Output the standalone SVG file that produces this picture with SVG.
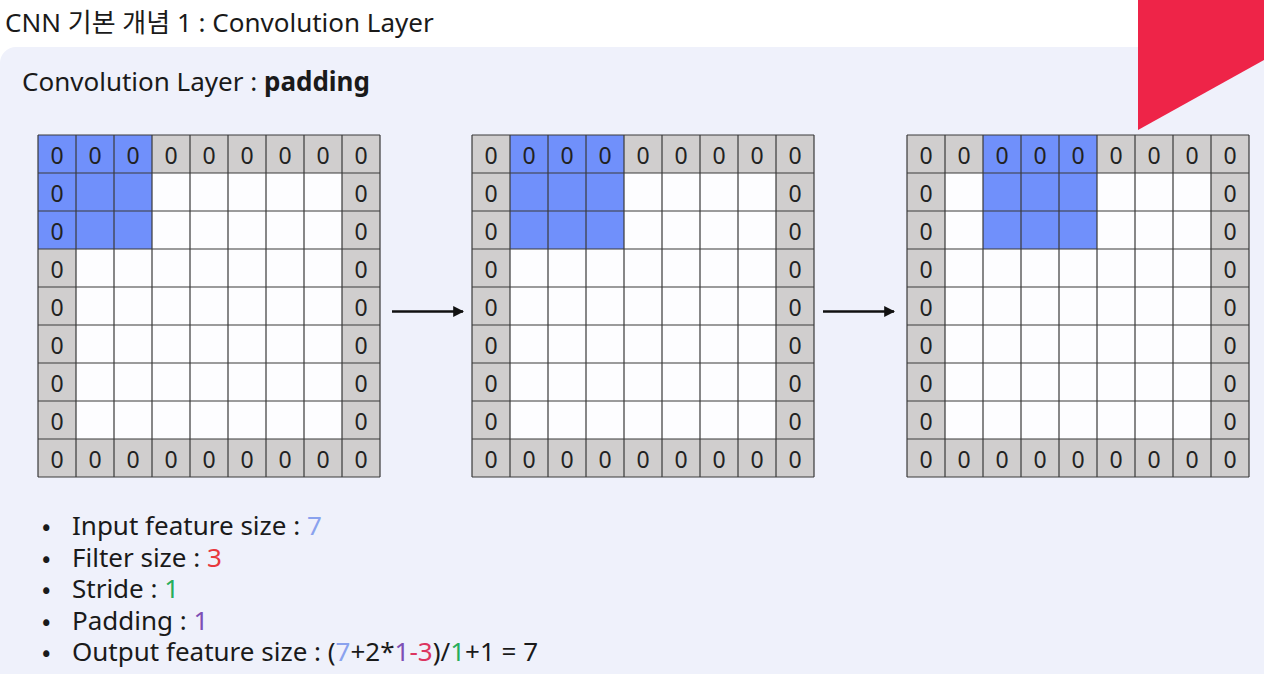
<svg xmlns="http://www.w3.org/2000/svg" xmlns:xlink="http://www.w3.org/1999/xlink" width="1264" height="674" viewBox="0 0 1264 674">
<style>
text{font-family:"Noto Sans","Noto Sans CJK KR",sans-serif;fill:#1a1a1a}
.t{font-size:26px}
.b{font-size:25px;font-family:"Noto Sans CJK KR",sans-serif}
.z{font-size:23px;text-anchor:middle;fill:#222}
.blue{fill:#7090fb}
.gl{fill:none;stroke:#3a3a3a;stroke-width:1.2}
.arr{stroke:#111;stroke-width:2.6;fill:none}
.cB{fill:#8aa2ee}.cR{fill:#e8383d}.cG{fill:#27ae5c}.cP{fill:#7d4fb5}.cK{fill:#dc3560}
</style>
<defs>
<marker id="ah" viewBox="0 0 10 10" refX="9" refY="5" markerWidth="4.2" markerHeight="4.2" orient="auto" markerUnits="strokeWidth">
<path d="M0 0L10 5L0 10z" fill="#111"/>
</marker>
<g id="bg">
<rect x="0" y="0" width="342" height="342" fill="#d0cece"/>
<rect x="38" y="38" width="266" height="266" fill="#fdfdff"/>
</g>
<path id="lines" class="gl" d="M0 0V342M38 0V342M76 0V342M114 0V342M152 0V342M190 0V342M228 0V342M266 0V342M304 0V342M342 0V342M0 0H342M0 38H342M0 76H342M0 114H342M0 152H342M0 190H342M0 228H342M0 266H342M0 304H342M0 342H342"/>
</defs>
<rect x="0" y="0" width="1264" height="674" fill="#ffffff"/>
<rect x="0" y="47" width="1320" height="700" rx="16" fill="#eff1fb"/>
<polygon points="1138,0 1264,0 1264,60 1138,130" fill="#ee2448"/>
<text class="t" x="5" y="32">CNN 기본 개념 1 : Convolution Layer</text>
<text class="t" x="22" y="91">Convolution Layer : <tspan font-weight="bold">padding</tspan></text>

<g id="grid1" transform="translate(38,135)">
<use xlink:href="#bg"/>
<rect class="blue" x="0" y="0" width="114" height="114"/>
<use xlink:href="#lines"/>
<text class="z" x="19 57 95 133 171 209 247 285 323" y="29">000000000</text>
<text class="z" x="19 57 95 133 171 209 247 285 323" y="333">000000000</text>
<text class="z" x="19 19 19 19 19 19 19" y="67 105 143 181 219 257 295">0000000</text>
<text class="z" x="323 323 323 323 323 323 323" y="67 105 143 181 219 257 295">0000000</text>
</g>

<g id="grid2" transform="translate(472,135)">
<use xlink:href="#bg"/>
<rect class="blue" x="38" y="0" width="114" height="114"/>
<use xlink:href="#lines"/>
<text class="z" x="19 57 95 133 171 209 247 285 323" y="29">000000000</text>
<text class="z" x="19 57 95 133 171 209 247 285 323" y="333">000000000</text>
<text class="z" x="19 19 19 19 19 19 19" y="67 105 143 181 219 257 295">0000000</text>
<text class="z" x="323 323 323 323 323 323 323" y="67 105 143 181 219 257 295">0000000</text>
</g>

<g id="grid3" transform="translate(907,135)">
<use xlink:href="#bg"/>
<rect class="blue" x="76" y="0" width="114" height="114"/>
<use xlink:href="#lines"/>
<text class="z" x="19 57 95 133 171 209 247 285 323" y="29">000000000</text>
<text class="z" x="19 57 95 133 171 209 247 285 323" y="333">000000000</text>
<text class="z" x="19 19 19 19 19 19 19" y="67 105 143 181 219 257 295">0000000</text>
<text class="z" x="323 323 323 323 323 323 323" y="67 105 143 181 219 257 295">0000000</text>
</g>

<g id="connectors">
<line class="arr" x1="392" y1="311.5" x2="463" y2="311.5" marker-end="url(#ah)"/>
<line class="arr" x1="823" y1="311.5" x2="894" y2="311.5" marker-end="url(#ah)"/>
</g>

<g id="bullets">
<text class="b" x="42" y="535">•</text>
<text class="b" x="42" y="567">•</text>
<text class="b" x="42" y="598">•</text>
<text class="b" x="42" y="630">•</text>
<text class="b" x="42" y="661">•</text>
<text class="t" x="72" y="535">Input feature size : <tspan class="cB">7</tspan></text>
<text class="t" x="72" y="567">Filter size : <tspan class="cR">3</tspan></text>
<text class="t" x="72" y="598">Stride : <tspan class="cG">1</tspan></text>
<text class="t" x="72" y="630">Padding : <tspan class="cP">1</tspan></text>
<text class="t" x="72" y="661">Output feature size : (<tspan class="cB">7</tspan>+2*<tspan class="cP">1</tspan><tspan class="cK">-3</tspan>)/<tspan class="cG">1</tspan>+1 = 7</text>
</g>
</svg>
